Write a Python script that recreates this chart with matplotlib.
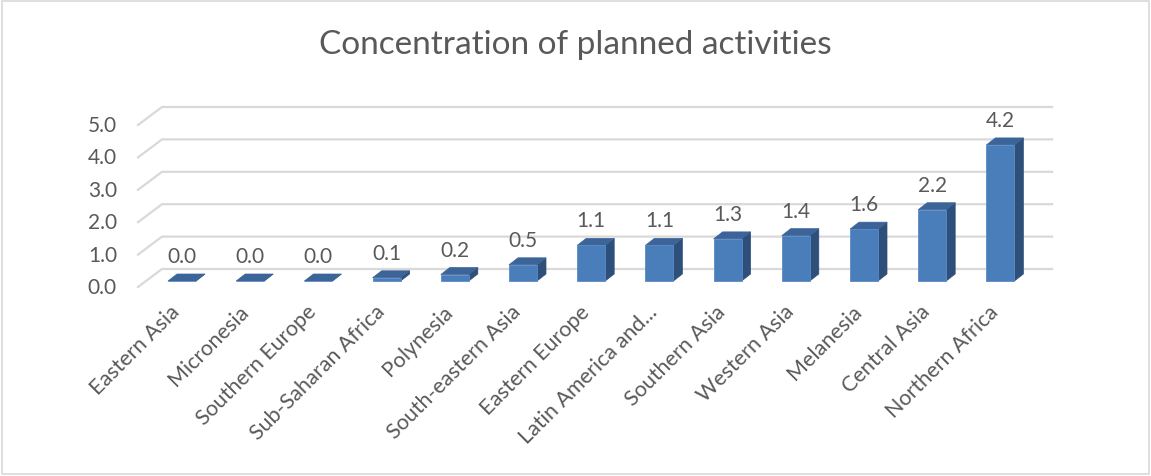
import matplotlib.pyplot as plt
from matplotlib.patches import Polygon, Rectangle


REGIONS = [
    "Eastern Asia",
    "Micronesia",
    "Southern Europe",
    "Sub-Saharan Africa",
    "Polynesia",
    "South-eastern Asia",
    "Eastern Europe",
    "Latin America and...",
    "Southern Asia",
    "Western Asia",
    "Melanesia",
    "Central Asia",
    "Northern Africa",
]
VALUES = [0.0, 0.0, 0.0, 0.1, 0.2, 0.5, 1.1, 1.1, 1.3, 1.4, 1.6, 2.2, 4.2]
Y_TICKS = [0, 1, 2, 3, 4, 5]

TEXT = "#595959"
GRID = "#d9d9d9"
FRONT = "#4a7ebb"
SIDE = "#2e4f7a"
TOP = "#3d6498"
FONT = "Lato"

# pixel geometry of the reference (1151 x 477)
W, H = 1151, 477
X0_PX, STEP_PX = 182.0, 68.2      # first bar centre, bar spacing
Y0_PX, UNIT_PX = 282.0, 32.4      # bar base, pixels per unit


def ux(px):
    return px / STEP_PX


def uy(px):
    return px / UNIT_PX


fig = plt.figure(figsize=(W / 100, H / 100), dpi=100)
ax = fig.add_axes([0, 0, 1, 1])
ax.set_xlim(-X0_PX / STEP_PX, (W - X0_PX) / STEP_PX)
ax.set_ylim(-(H - Y0_PX) / UNIT_PX, Y0_PX / UNIT_PX)
ax.axis("off")

# back wall gridlines with the slanted front edge
back_dy = uy(12)
x_left = ux(162 - X0_PX)
x_right = ux(1052 - X0_PX)
for g in Y_TICKS:
    yb = g + back_dy
    ax.plot([x_left - ux(24), x_left, x_right], [yb - uy(18), yb, yb],
            color=GRID, lw=1.6, solid_joinstyle="miter", zorder=1)
    ax.text(ux(117 - X0_PX), yb - uy(18), f"{g:.1f}", ha="right",
            va="center", color=TEXT, fontsize=15, family=FONT)

# 3d looking bars
half = ux(14)
dx, dy = ux(9), uy(7)
for i, (name, v) in enumerate(zip(REGIONS, VALUES)):
    x0, x1 = i - half, i + half
    ax.add_patch(Polygon([(x1, 0), (x1 + dx, dy), (x1 + dx, v + dy), (x1, v)],
                         closed=True, fc=SIDE, ec=SIDE, lw=0.5, zorder=3))
    ax.add_patch(Polygon([(x0, v), (x1, v), (x1 + dx, v + dy), (x0 + dx, v + dy)],
                         closed=True, fc=TOP, ec=TOP, lw=0.5, zorder=3))
    ax.bar(i, v, width=2 * half, bottom=0, color=FRONT, edgecolor="#5a8ac6",
           lw=0.6, zorder=4)
    ax.text(i, v + uy(25), f"{v:.1f}", ha="center", va="center",
            color=TEXT, fontsize=15, family=FONT)
    ax.text(i + ux(2), -uy(20), name, ha="right", va="top", rotation=45,
            color=TEXT, fontsize=15.5, family=FONT)

ax.text(0.5, 1 - 45 / H, "Concentration of planned activities",
        transform=ax.transAxes, ha="center", va="center", color=TEXT,
        fontsize=24, family=FONT)

fig.patches.append(Rectangle((2 / W, 2 / H), (W - 4) / W, (H - 4) / H,
                             transform=fig.transFigure, fill=False,
                             ec=GRID, lw=1.2))

fig.savefig("out.png", dpi=100)
